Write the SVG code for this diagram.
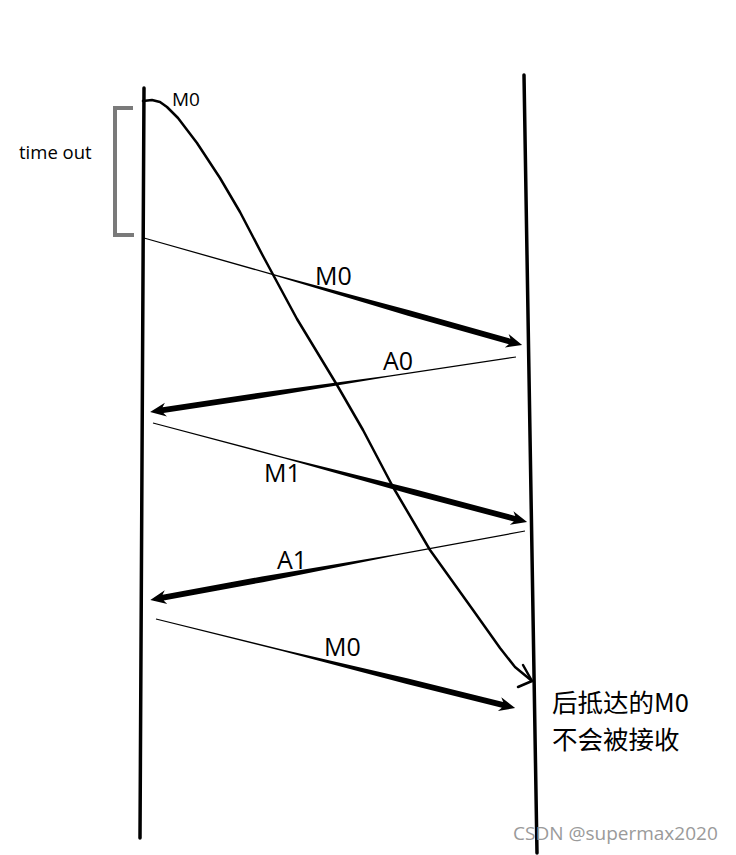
<svg xmlns="http://www.w3.org/2000/svg" width="736" height="855" viewBox="0 0 736 855">
<style>
.life{stroke:#000;stroke-width:3.5;fill:none;stroke-linecap:round}
.brk{stroke:#7a7a7a;stroke-width:4;fill:none}
.curve{stroke:#000;stroke-width:2.5;fill:none;stroke-linejoin:round;stroke-linecap:round}
.arr{fill:#000;stroke:none}
.lbl{font-family:"Open Sans","Noto Sans","Noto Sans CJK SC",sans-serif;fill:#000}
.big{font-size:25px}
.small{font-size:19px}
.tiny{font-size:18.5px}
.cjk{font-family:"Noto Sans CJK SC","Noto Sans",sans-serif;font-size:25.5px;fill:#000}
.wm{font-family:"Open Sans","Noto Sans",sans-serif;font-size:19px;fill:#9a9a9a}
</style>
<rect width="736" height="855" fill="#fff"/>
<g id="sender"><line class="life" x1="144" y1="88" x2="140" y2="838"/></g>
<g id="receiver"><line class="life" x1="524" y1="75" x2="537" y2="853"/></g>
<g id="timeout">
<path class="brk" d="M133,108 H115 V235 H134"/>
<text class="lbl tiny" x="19" y="159">time out</text>
</g>
<g id="connectors">
<g id="late-m0">
<path class="curve" d="M143,101 L152,100 L160,102 L167,107 L178,118 L197,143 L220,178 L240,212 L263,256 L297,319 L337,385 L363,430 L393,487 L430,550 L473,610 L500,648 L515,667 L532,681"/>
<path class="curve" d="M523,665 L532,681 L518,687"/>
<text class="lbl small" x="172" y="106">M0</text>
</g>
<g id="m0-first">
<polygon class="arr" transform="translate(144,238) rotate(15.81)" points="0,-0.6 138,-0.7 275,-2.9 380,-2.9 377,-7 393,0 377,7 380,2.9 275,2.9 138,0.7 0,0.6"/>
<text class="lbl big" x="315" y="285">M0</text>
</g>
<g id="a0">
<polygon class="arr" transform="translate(516,357) rotate(171.45)" points="0,-0.6 130,-0.7 259,-2.9 357,-2.9 354,-7 370,0 354,7 357,2.9 259,2.9 130,0.7 0,0.6"/>
<text class="lbl big" x="383" y="370">A0</text>
</g>
<g id="m1">
<polygon class="arr" transform="translate(153,423) rotate(14.83)" points="0,-0.6 136,-0.7 271,-2.9 374,-2.9 371,-7 387,0 371,7 374,2.9 271,2.9 136,0.7 0,0.6"/>
<text class="lbl big" x="264" y="482">M1</text>
</g>
<g id="a1">
<polygon class="arr" transform="translate(525,531) rotate(169.57)" points="0,-0.6 133,-0.7 267,-2.9 368,-2.9 365,-7 381,0 365,7 368,2.9 267,2.9 133,0.7 0,0.6"/>
<text class="lbl big" x="277" y="569">A1</text>
</g>
<g id="m0-second">
<polygon class="arr" transform="translate(156,619) rotate(13.92)" points="0,-0.6 130,-0.7 259,-2.9 357,-2.9 354,-7 370,0 354,7 357,2.9 259,2.9 130,0.7 0,0.6"/>
<text class="lbl big" x="324" y="656">M0</text>
</g>
</g>
<g id="note">
<text class="cjk" x="552" y="712">后抵达的M0</text>
<text class="cjk" x="552" y="749">不会被接收</text>
</g>
<text class="wm" x="513" y="840">CSDN @supermax2020</text>
</svg>
